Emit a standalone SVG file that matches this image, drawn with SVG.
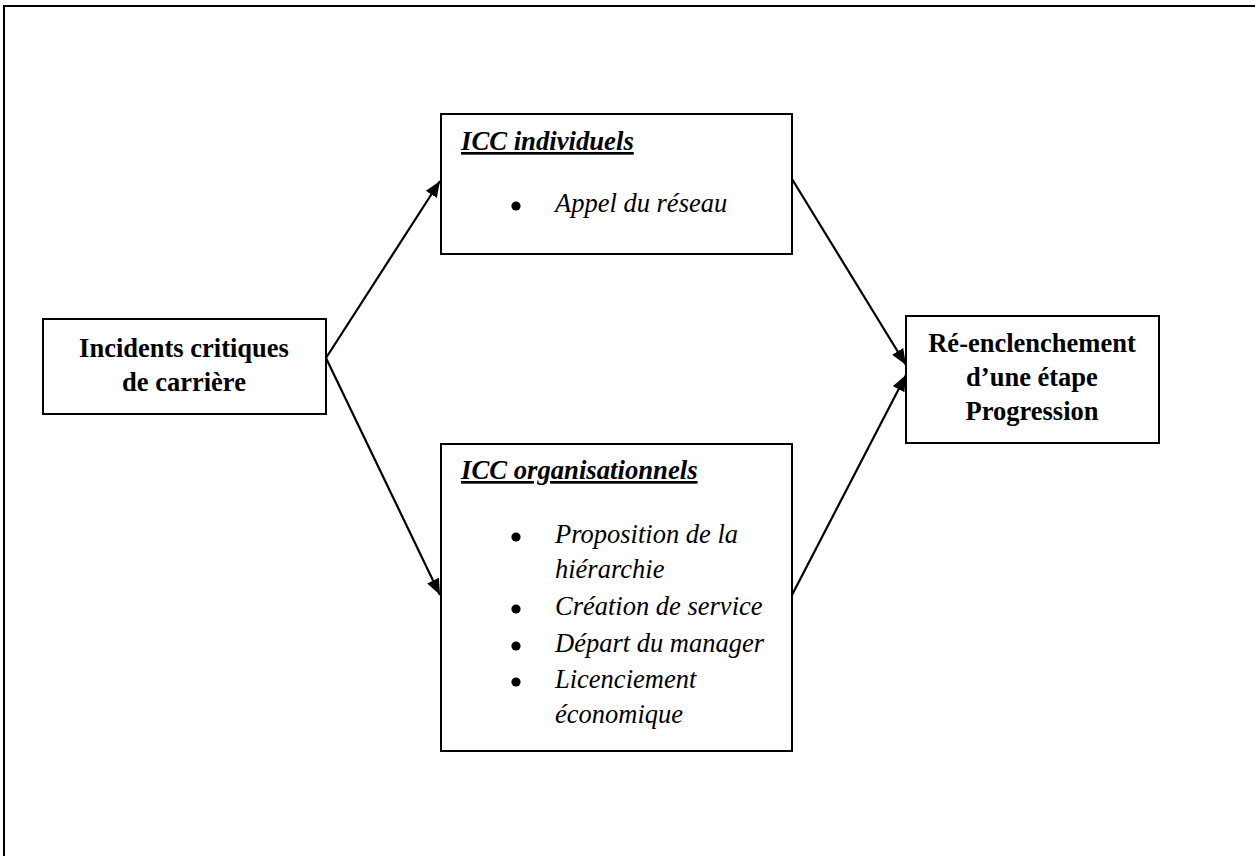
<svg xmlns="http://www.w3.org/2000/svg" width="1255" height="856" viewBox="0 0 1255 856">
<style>
.box{fill:#fff;stroke:#000;stroke-width:2}
.b{font-family:"Liberation Serif","Times New Roman",serif;font-weight:bold;font-size:26.5px;fill:#000;text-anchor:middle}
.h{font-family:"Liberation Serif","Times New Roman",serif;font-weight:bold;font-style:italic;font-size:26.7px;fill:#000;text-decoration:underline}
.i{font-family:"Liberation Serif","Times New Roman",serif;font-style:italic;font-size:26.5px;fill:#000}
.c{stroke:#000;stroke-width:2.2;fill:none;marker-end:url(#ah)}
</style>
<defs>
<marker id="ah" viewBox="0 0 16 13" refX="16" refY="6.5" markerWidth="16" markerHeight="13" markerUnits="userSpaceOnUse" orient="auto">
<path d="M0,0 L16,6.5 L0,13 Z" fill="#000"/>
</marker>
</defs>
<rect width="1255" height="856" fill="#fff"/>
<path d="M4,870 V6 H1270" fill="none" stroke="#000" stroke-width="2"/>
<g id="connectors">
<line class="c" x1="326" y1="358" x2="440" y2="181"/>
<line class="c" x1="326" y1="358" x2="440" y2="595"/>
<line class="c" x1="792" y1="179" x2="906" y2="365"/>
<line class="c" x1="792" y1="595" x2="906" y2="375"/>
</g>
<g id="incidents">
<rect class="box" x="43" y="319" width="283" height="95"/>
<text class="b" x="184" y="357">Incidents critiques</text>
<text class="b" x="184" y="391">de carrière</text>
</g>
<g id="icc-individuels">
<rect class="box" x="441" y="114" width="351" height="140"/>
<text class="h" x="461" y="150">ICC individuels</text>
<circle cx="516" cy="206" r="4.6"/>
<text class="i" x="555" y="212">Appel du réseau</text>
</g>
<g id="icc-organisationnels">
<rect class="box" x="441" y="444" width="351" height="307"/>
<text class="h" x="461" y="479">ICC organisationnels</text>
<circle cx="516" cy="537" r="4.6"/>
<text class="i" x="555" y="543">Proposition de la</text>
<text class="i" x="555" y="578">hiérarchie</text>
<circle cx="516" cy="609" r="4.6"/>
<text class="i" x="555" y="615">Création de service</text>
<circle cx="516" cy="646" r="4.6"/>
<text class="i" x="555" y="652">Départ du manager</text>
<circle cx="516" cy="682" r="4.6"/>
<text class="i" x="555" y="688">Licenciement</text>
<text class="i" x="555" y="723">économique</text>
</g>
<g id="reenclenchement">
<rect class="box" x="906" y="316" width="253" height="127"/>
<text class="b" x="1032" y="352">Ré-enclenchement</text>
<text class="b" x="1032" y="386">d’une étape</text>
<text class="b" x="1032" y="420">Progression</text>
</g>
</svg>
